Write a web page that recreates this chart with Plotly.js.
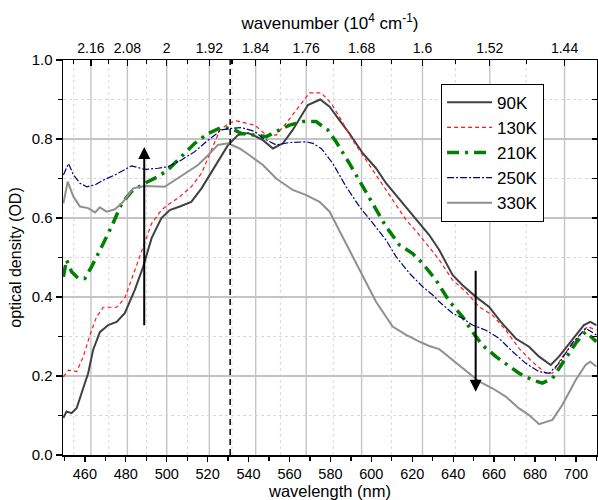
<!DOCTYPE html>
<html>
<head>
<meta charset="utf-8">
<script src="https://cdn.plot.ly/plotly-3.0.1.min.js"></script>
<style>html,body{margin:0;padding:0;background:#fff;}#chart{width:598px;height:500px;}</style>
</head>
<body>
<div id="chart"></div>
<script>
const seriesNames = ["90K", "130K", "210K", "250K", "330K"];

const x90 = [449.5,451,453.5,456,458.4,461.6,464,467.3,471.4,475.5,479.5,484.4,488.5,492.6,497.4,501.5,506.4,512,517,521,526,530,534.8,539.7,543,547,551.9,556.8,561.6,569,575,579.6,584.4,589.3,595.8,602.3,607.2,615.3,621.8,628.3,633.2,639.7,644.6,651,657.6,663.3,670.6,677.1,682,687.7,691.7,698.2,703.9,707,710];
const y90 = [0.094,0.11,0.106,0.119,0.157,0.207,0.266,0.311,0.329,0.337,0.359,0.418,0.477,0.549,0.6,0.62,0.629,0.641,0.675,0.709,0.75,0.785,0.81,0.815,0.808,0.797,0.776,0.789,0.823,0.886,0.9,0.882,0.848,0.814,0.764,0.726,0.688,0.637,0.599,0.557,0.519,0.456,0.43,0.401,0.375,0.337,0.295,0.274,0.249,0.228,0.249,0.291,0.329,0.337,0.329];

const x130 = [449.5,452,456,459.2,462.5,465.7,469,475.5,479.5,484.4,488.5,492.6,497.4,501.5,506.4,512,517,521.8,526,530.8,534,538.9,543,548.7,553.5,558.4,565,569.8,575.5,580.4,584.4,590.9,597.4,604,610.4,617,623.5,630,633.2,639.7,646.2,652.7,659.2,665.7,672.2,678.7,685.2,688.5,693.4,699.9,705.6,710];
const y130 = [0.198,0.215,0.211,0.249,0.304,0.35,0.374,0.374,0.397,0.468,0.527,0.586,0.62,0.637,0.654,0.679,0.713,0.772,0.823,0.841,0.846,0.84,0.835,0.81,0.81,0.84,0.886,0.917,0.917,0.89,0.856,0.797,0.747,0.696,0.646,0.595,0.557,0.515,0.494,0.443,0.413,0.375,0.354,0.316,0.27,0.236,0.207,0.207,0.249,0.291,0.325,0.316];

const x210 = [449.5,451,453.5,456.8,460,463.3,468.2,473,478,482.8,489.3,495.8,500.7,507.2,513.7,520.2,526.7,531.6,536.5,543,548.7,553.5,560,566.5,573,578.7,582.8,589.3,595.8,602.3,607.2,613.7,620.2,625.1,631.6,638,644.6,649.4,654.3,660.9,665.7,672.2,678.7,683.6,688.5,693.4,699.9,704.7,710];
const y210 = [0.451,0.494,0.464,0.447,0.447,0.477,0.527,0.578,0.637,0.667,0.688,0.705,0.722,0.755,0.789,0.814,0.829,0.827,0.814,0.81,0.806,0.819,0.835,0.844,0.844,0.823,0.793,0.738,0.679,0.62,0.578,0.532,0.51,0.485,0.443,0.39,0.35,0.312,0.278,0.249,0.232,0.207,0.19,0.182,0.194,0.232,0.283,0.312,0.287];

const x250 = [449.5,452,454.4,457.6,460.9,465,469,474.7,482.8,489.3,495.8,500.7,507.2,513.7,520.2,526.7,531.6,536.5,543,547,553.5,560,568.2,571.4,575.5,581.2,587.7,594.2,600.7,607.2,612.1,618.6,625.1,630,633.2,639.7,644.6,649.4,656,662.5,669,675.5,682,686.9,691.7,698.2,704.7,710];
const y250 = [0.709,0.738,0.709,0.688,0.679,0.684,0.696,0.709,0.732,0.723,0.726,0.73,0.747,0.768,0.797,0.823,0.827,0.829,0.819,0.802,0.785,0.791,0.793,0.789,0.776,0.738,0.679,0.629,0.587,0.544,0.502,0.46,0.426,0.405,0.388,0.359,0.346,0.329,0.316,0.295,0.262,0.232,0.211,0.207,0.232,0.283,0.321,0.304];

const x330 = [449.5,451.6,454.4,457.6,461.6,465,467.3,470.6,474.7,478.7,483.6,489.3,499,503.9,510.4,515.3,520.2,525,530,535.6,540.5,547,553.5,561.6,568.2,574.7,579.6,587.7,594.2,602.3,610.4,617,623.5,628.3,633.2,639.7,646.2,652.7,659.2,665.7,672.2,677.1,682,688.5,693.4,699.9,704.7,707,710];
const y330 = [0.637,0.692,0.654,0.629,0.625,0.614,0.627,0.616,0.622,0.641,0.675,0.681,0.679,0.696,0.717,0.734,0.759,0.785,0.789,0.776,0.759,0.734,0.7,0.671,0.658,0.641,0.616,0.536,0.468,0.388,0.325,0.304,0.287,0.276,0.268,0.241,0.215,0.186,0.169,0.148,0.118,0.101,0.078,0.089,0.127,0.19,0.228,0.236,0.224];

// top axis: wavenumber (10^4 cm^-1)
const wnMajor = [2.16, 2.08, 2, 1.92, 1.84, 1.76, 1.68, 1.6, 1.52, 1.44];
const wnMajorText = ["2.16", "2.08", "2", "1.92", "1.84", "1.76", "1.68", "1.6", "1.52", "1.44"];
const wnMinor = [2.20, 2.12, 2.04, 1.96, 1.88, 1.80, 1.72, 1.64, 1.56, 1.48];

const markerLine = 531;      // dashed vertical line (nm)
const arrowUp = {x: 489, from: 0.325, to: 0.78};
const arrowDown = {x: 651, from: 0.47, to: 0.16};

const xRange = [449.3, 710.3];
const toNm = wn => 1000 / wn;

const styles = [
  {color: "#404040", width: 2, dash: "solid"},
  {color: "#ff1a1a", width: 1.2, dash: "4px,3px"},
  {color: "#008000", width: 3.5, dash: "12px,6px,3px,6px"},
  {color: "#000080", width: 1.2, dash: "7px,2px,2px,2px"},
  {color: "#909090", width: 2, dash: "solid"}
];
const xs = [x90, x130, x210, x250, x330];
const ys = [y90, y130, y210, y250, y330];

const traces = seriesNames.map((n, i) => ({
  x: xs[i], y: ys[i], name: n, type: "scatter", mode: "lines",
  line: {color: styles[i].color, width: styles[i].width, dash: styles[i].dash},
  xaxis: "x", yaxis: "y"
}));
traces.push({x: xRange, y: [null, null], xaxis: "x2", yaxis: "y", showlegend: false, hoverinfo: "skip", mode: "lines"});
traces.push({x: xRange, y: [null, null], xaxis: "x", yaxis: "y2", showlegend: false, hoverinfo: "skip", mode: "lines"});

const font = "Arial, 'Liberation Sans', sans-serif";

// vertical grid lines at wavenumber ticks (drawn as shapes under the data)
const gridShapes = [];
wnMinor.forEach(w => gridShapes.push({type: "line", layer: "below", xref: "x", yref: "paper", x0: toNm(w), x1: toNm(w), y0: 0, y1: 1,
  line: {color: "#d8d8d8", width: 1, dash: "dot"}}));
wnMajor.forEach(w => gridShapes.push({type: "line", layer: "below", xref: "x", yref: "paper", x0: toNm(w), x1: toNm(w), y0: 0, y1: 1,
  line: {color: "#c4c4c4", width: 1.4}}));

const layout = {
  width: 598, height: 500,
  margin: {l: 63, r: 1, t: 60, b: 45},
  paper_bgcolor: "#fff", plot_bgcolor: "#fff",
  font: {family: font, color: "#000", size: 15},
  showlegend: true,
  legend: {
    x: 0.708, y: 0.94, xanchor: "left", yanchor: "top",
    bordercolor: "#000", borderwidth: 1, bgcolor: "#fff",
    font: {size: 17, family: font}, itemwidth: 45, tracegroupgap: 0
  },
  xaxis: {
    range: xRange, side: "bottom", anchor: "y",
    tickmode: "linear", tick0: 460, dtick: 20,
    ticks: "outside", ticklen: 5, tickwidth: 1.3, tickcolor: "#000",
    minor: {tickmode: "linear", tick0: 450, dtick: 10, ticks: "outside", ticklen: 4, tickwidth: 1.3, tickcolor: "#000", showgrid: false},
    showgrid: false, zeroline: false,
    showline: true, linecolor: "#000", linewidth: 1.5,
    tickfont: {size: 14.5},
    title: {text: "wavelength (nm)", font: {size: 16.5}, standoff: 0}
  },
  xaxis2: {
    range: xRange, overlaying: "x", side: "top", anchor: "y",
    tickmode: "array", tickvals: wnMajor.map(toNm), ticktext: wnMajorText,
    ticks: "inside", ticklen: 6, tickwidth: 1.3, tickcolor: "#000",
    minor: {tickmode: "array", tickvals: wnMinor.map(toNm), ticks: "inside", ticklen: 4, tickwidth: 1.3, tickcolor: "#000", showgrid: false},
    showgrid: false, zeroline: false, showline: true, linecolor: "#000", linewidth: 1.5,
    tickfont: {size: 14},
    title: {text: "wavenumber (10<sup>4</sup> cm<sup>-1</sup>)", font: {size: 17}, standoff: 6}
  },
  yaxis: {
    range: [0, 1], anchor: "x",
    tickmode: "linear", tick0: 0, dtick: 0.2, tickformat: ".1f",
    ticks: "outside", ticklen: 6, tickwidth: 1.3, tickcolor: "#000",
    minor: {tickmode: "linear", tick0: 0, dtick: 0.1, ticks: "outside", ticklen: 4, tickwidth: 1.3, tickcolor: "#000",
            showgrid: true, gridcolor: "#d8d8d8", griddash: "dot", gridwidth: 1},
    showgrid: true, gridcolor: "#c4c4c4", gridwidth: 1.4,
    zeroline: false, showline: true, linecolor: "#000", linewidth: 1.5,
    tickfont: {size: 15},
    title: {text: "optical density (OD)", font: {size: 16}, standoff: 6}
  },
  yaxis2: {
    range: [0, 1], overlaying: "y", side: "right", anchor: "x",
    tickmode: "linear", tick0: 0, dtick: 0.1,
    ticks: "inside", ticklen: 5, tickwidth: 1.3, tickcolor: "#000",
    showticklabels: false, showgrid: false, zeroline: false,
    showline: true, linecolor: "#000", linewidth: 1.5
  },
  shapes: gridShapes.concat([
    {type: "line", xref: "x", yref: "paper", x0: markerLine, x1: markerLine, y0: 0, y1: 1,
     line: {color: "#000", width: 1.5, dash: "6px,4px"}}
  ]),
  annotations: [
    {x: arrowUp.x, y: arrowUp.to, ax: arrowUp.x, ay: arrowUp.from, xref: "x", yref: "y", axref: "x", ayref: "y",
     showarrow: true, arrowhead: 2, arrowsize: 1.2, arrowwidth: 2, arrowcolor: "#000", text: ""},
    {x: arrowDown.x, y: arrowDown.to, ax: arrowDown.x, ay: arrowDown.from, xref: "x", yref: "y", axref: "x", ayref: "y",
     showarrow: true, arrowhead: 2, arrowsize: 1.2, arrowwidth: 2, arrowcolor: "#000", text: ""}
  ]
};

Plotly.newPlot("chart", traces, layout, {displayModeBar: false, staticPlot: true});
</script>
</body>
</html>
